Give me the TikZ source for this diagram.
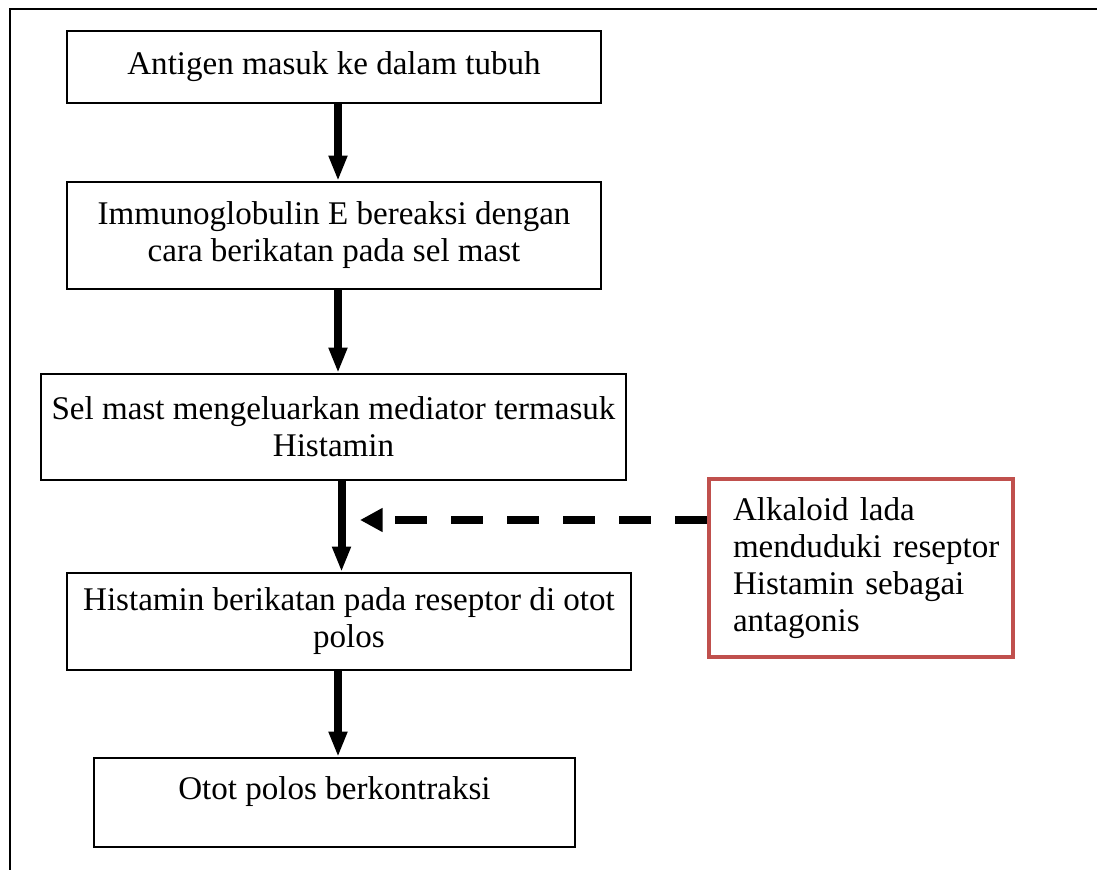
\documentclass[tikz,border=0pt]{standalone}
\usepackage{fontspec}
\setmainfont{Liberation Serif}
\usepackage{xcolor}
\usepackage{tikz}
\usetikzlibrary{positioning,arrows.meta,calc}
\definecolor{framered}{RGB}{192,80,77}

\begin{document}
\begin{tikzpicture}[x=0.75pt, y=-0.75pt]
    \tikzstyle{stepbox} = [rectangle, draw=black, line width=1.5pt, fill=white, align=center, inner sep=0pt, font=\fontsize{24.8}{27.75}\selectfont]
    \tikzstyle{notebox} = [rectangle, draw=framered, line width=3.5pt, fill=white, align=left, text width=192pt, inner xsep=18pt, minimum width=228pt, minimum height=133.5pt, font=\fontsize{24.8}{27.75}\selectfont]
    \tikzstyle{flow} = [line width=6pt, -{Triangle[width=13pt,length=19pt]}]
    \tikzstyle{block} = [line width=6pt, dash pattern=on 24pt off 18pt, -{Triangle[width=17pt,length=17pt]}]

    \useasboundingbox (0,0) rectangle (1097,870);

    % outer frame (top and left only)
    \draw [line width=2pt] (1097,9) -- (10,9) -- (10,870);

    % steps
    \node [stepbox, minimum width=400.5pt, minimum height=54pt] (antigen) at (334,67) {Antigen masuk ke dalam tubuh};
    \node [stepbox, minimum width=400.5pt, minimum height=80.25pt] (ige) at (334,235.5) {Immunoglobulin E bereaksi dengan\\cara berikatan pada sel mast};
    \node [stepbox, minimum width=438.75pt, minimum height=79.5pt] (mast) at (333.5,427) {Sel mast mengeluarkan mediator termasuk\\Histamin};
    \node [stepbox, minimum width=423pt, minimum height=72.75pt] (reseptor) at (349,621.5) {Histamin berikatan pada reseptor di otot\\polos};
    \node [stepbox, minimum width=360.75pt, minimum height=66.75pt, text depth=21pt] (kontraksi) at (334.5,802.5) {Otot polos berkontraksi};

    % alkaloid
    \node [notebox] (alkaloid) at (861,568) {Alkaloid lada\\\mbox{menduduki reseptor}\\Histamin sebagai\\antagonis};
    \coordinate (hit) at (360,520);

    % arrows
    \draw [flow] ([xshift=3pt]antigen.south) -- ([xshift=3pt]antigen.south |- ige.north);
    \draw [flow] ([xshift=3pt]ige.south) -- ([xshift=3pt]ige.south |- mast.north);
    \draw [flow] ([xshift=6pt]mast.south) -- ([xshift=6pt]mast.south |- reseptor.north);
    \draw [flow] ([xshift=3pt]antigen.south |- reseptor.south) -- ([xshift=3pt]antigen.south |- kontraksi.north);
    \draw [block] (alkaloid.west |- hit) -- (hit);
\end{tikzpicture}
\end{document}
